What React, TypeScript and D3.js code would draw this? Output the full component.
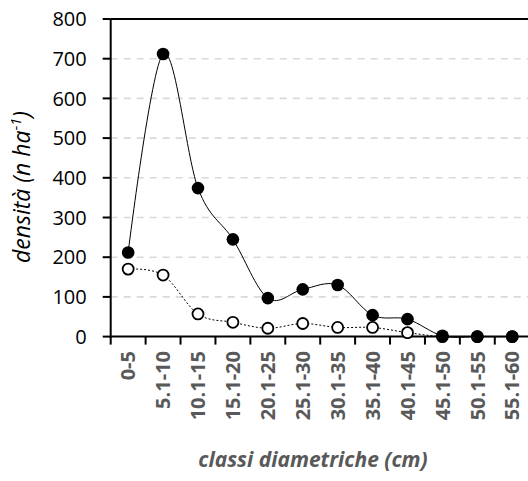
import React from "react";
import * as d3 from "d3";

const classes = [
  "0-5", "5.1-10", "10.1-15", "15.1-20", "20.1-25", "25.1-30",
  "30.1-35", "35.1-40", "40.1-45", "45.1-50", "50.1-55", "55.1-60",
];
const filledSeries = [212, 712, 374, 245, 97, 119, 130, 54, 44, 2, 0, 0];
const openSeries = [170, 155, 57, 36, 21, 33, 23, 23, 10, 0, 0, 0];
const yTicks = [0, 100, 200, 300, 400, 500, 600, 700, 800];

const W = 528;
const H = 481;
const left = 110.7;
const right = 529.7;
const top = 19;
const bottom = 336.6;

export default function App() {
  const x = d3.scaleBand<string>().domain(classes).range([left, right]);
  const y = d3.scaleLinear().domain([0, 800]).range([bottom, top]);
  const cx = (c: string) => (x(c) ?? 0) + x.bandwidth() / 2;

  const line = d3
    .line<number>()
    .x((_, i) => cx(classes[i]))
    .y((d) => y(d))
    .curve(d3.curveCardinal.tension(0));

  const font = "'Open Sans', sans-serif";

  return (
    <svg
      width={W}
      height={H}
      style={{ position: "absolute", left: 0, top: 0, background: "#fff" }}
    >
      {/* grid */}
      {yTicks.filter((t) => t > 0 && t < 800).map((t) => (
        <line
          key={`g${t}`}
          x1={left}
          x2={W}
          y1={y(t)}
          y2={y(t)}
          stroke="#d9d9d9"
          strokeWidth={1.6}
          strokeDasharray="7 6"
        />
      ))}
      <line x1={left} x2={W} y1={y(800)} y2={y(800)} stroke="#000" strokeWidth={2} />

      {/* y axis */}
      <line x1={left} x2={left} y1={top} y2={bottom + 1} stroke="#000" strokeWidth={2} />
      {yTicks.map((t) => (
        <g key={`y${t}`}>
          <line x1={left - 8} x2={left} y1={y(t)} y2={y(t)} stroke="#000" strokeWidth={2} />
          <text
            x={left - 24}
            y={y(t)}
            dy="0.36em"
            textAnchor="end"
            fontFamily={font}
            fontSize={20}
            fill="#000"
          >
            {t}
          </text>
        </g>
      ))}

      {/* x axis */}
      <line x1={left - 1} x2={W} y1={bottom} y2={bottom} stroke="#000" strokeWidth={2} />
      {classes.map((c) => (
        <line
          key={`t${c}`}
          x1={x(c) ?? 0}
          x2={x(c) ?? 0}
          y1={bottom}
          y2={bottom + 8}
          stroke="#000"
          strokeWidth={2}
        />
      ))}
      {classes.map((c) => (
        <text
          key={`l${c}`}
          transform={`translate(${cx(c)},${351}) rotate(-90)`}
          dy="0.36em"
          textAnchor="end"
          fontFamily={font}
          fontWeight="bold"
          fontSize={20}
          fill="#595959"
        >
          {c}
        </text>
      ))}

      {/* series lines */}
      <path d={line(openSeries) ?? ""} fill="none" stroke="#000" strokeWidth={1} strokeDasharray="2 2" />
      <path d={line(filledSeries) ?? ""} fill="none" stroke="#000" strokeWidth={1} />

      {/* markers */}
      {openSeries.map((v, i) => (
        <circle
          key={`o${i}`}
          cx={cx(classes[i])}
          cy={y(v)}
          r={5.5}
          fill="#fff"
          stroke="#000"
          strokeWidth={1.8}
        />
      ))}
      {filledSeries.map((v, i) => (
        <circle key={`f${i}`} cx={cx(classes[i])} cy={y(v)} r={6.3} fill="#000" />
      ))}

      {/* axis titles */}
      <text
        x={313}
        y={467}
        textAnchor="middle"
        fontFamily={font}
        fontStyle="italic"
        fontWeight="bold"
        fontSize={21}
        fill="#595959"
      >
        classi diametriche (cm)
      </text>
      <text
        transform={`translate(30,${187}) rotate(-90)`}
        textAnchor="middle"
        fontFamily={font}
        fontStyle="italic"
        fontSize={23}
        fill="#000"
      >
        densità (<tspan>n ha</tspan>
        <tspan dy={-9} fontSize={15}>-1</tspan>
        <tspan dy={9}>)</tspan>
      </text>
    </svg>
  );
}
